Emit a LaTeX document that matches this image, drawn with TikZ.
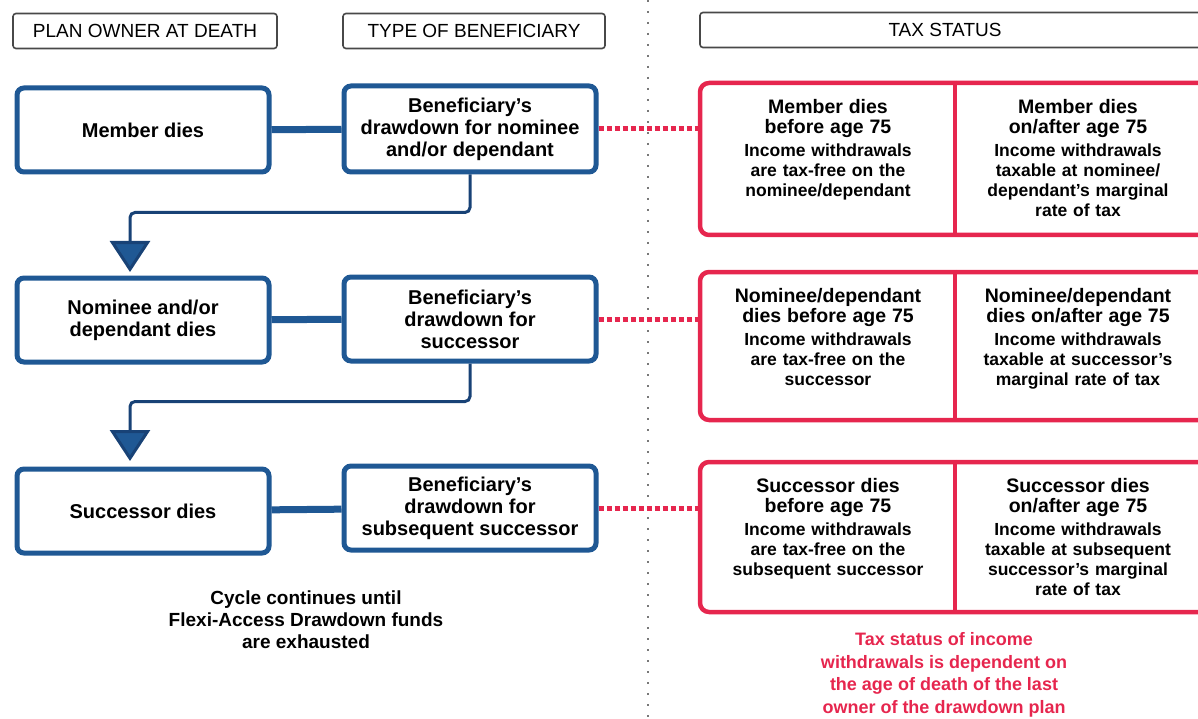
\documentclass[tikz,border=0pt]{standalone}
\usepackage{fontspec}
\setmainfont{Liberation Sans}
\usetikzlibrary{arrows.meta}
\definecolor{boxblue}{RGB}{31,88,148}
\definecolor{lineblue}{RGB}{24,66,118}
\definecolor{boxred}{RGB}{230,38,78}
\definecolor{headgray}{RGB}{72,72,72}
\definecolor{sepgray}{RGB}{120,120,120}
\newcommand{\cellhd}[1]{{\fontsize{19.5}{20}\selectfont #1\par}\vspace{3pt}}
\tikzset{
  headbox/.style={draw=headgray, line width=1.6pt, rounded corners=3pt, minimum height=35pt, inner sep=0pt, font=\fontsize{19}{22}\selectfont},
  bluebox/.style={draw=boxblue, fill=white, line width=5pt, rounded corners=7pt, minimum width=252pt, minimum height=84pt, align=center, inner sep=0pt, font=\bfseries\fontsize{20}{22}\selectfont},
  redbox/.style={draw=boxred, line width=4.5pt, rounded corners=9pt, minimum width=510pt, inner sep=0pt},
  celltext/.style={anchor=north, align=center, inner sep=0pt, text width=240pt, font=\bfseries\fontsize{17.5}{20}\selectfont},
  notetext/.style={align=center, inner sep=0pt, font=\bfseries\fontsize{19}{22}\selectfont},
  joinline/.style={boxblue, line width=7pt},
  flowline/.style={lineblue, line width=3pt, rounded corners=5pt, -{Triangle[width=40pt,length=31pt,fill=boxblue]}},
  dotline/.style={boxred, line width=5pt, dash pattern=on 5pt off 3pt},
  divline/.style={boxred, line width=4pt}
}
\begin{document}
\begin{tikzpicture}[x=1pt,y=-1pt]
        \useasboundingbox (0,0) rectangle (1198,719);

        % Separating dotted line
        \draw [sepgray, line width=2pt, dash pattern=on 1.6pt off 9.4pt] (648,0) -- (648,719);%

        % Column headers
        \node [headbox, minimum width=264pt] (hplan) at (145,31) {PLAN OWNER AT DEATH};%
        \node [headbox, minimum width=262pt] (htype) at (474,31) {TYPE OF BENEFICIARY};%
        \node [headbox, minimum width=510pt] (htax) at (955,30) {\hspace*{-20pt}TAX STATUS};%

        % Owner boxes
        \node [bluebox] (m1) at (143,130) {Member dies};%
        \node [bluebox] (m2) at (143,320) {Nominee and/or\\dependant dies};%
        \node [bluebox] (m3) at (143,511) {Successor dies};%

        % Beneficiary boxes
        \node [bluebox, minimum height=86pt] (b1) at (470,129) {Beneficiary's\\drawdown for nominee\\and/or dependant};%
        \node [bluebox] (b2) at (470,319) {Beneficiary's\\drawdown for\\successor};%
        \node [bluebox] (b3) at (470,508) {Beneficiary's\\drawdown for\\subsequent successor};%

        % Joining owner and beneficiary
        \draw [joinline] (m1) -- (b1);%
        \draw [joinline] (m2) -- (b2);%
        \draw [joinline] (m3) -- (b3);%

        % Flow down to the next owner
        \coordinate (a1) at (130,272);%
        \coordinate (a2) at (130,461);%
        \draw [flowline] (b1.south) -- ++(0,38) -| (a1);%
        \draw [flowline] (b2.south) -- ++(0,38) -| (a2);%

        % Tax status boxes
        \node [redbox, minimum height=152pt] (r1) at (955,159) {};%
        \node [redbox, minimum height=148pt] (r2) at (955,346) {};%
        \node [redbox, minimum height=150pt] (r3) at (955,537) {};%
        \draw [divline] (r1.north) -- (r1.south);%
        \draw [divline] (r2.north) -- (r2.south);%
        \draw [divline] (r3.north) -- (r3.south);%

        % Dotted links to the tax status
        \draw [dotline] (b1.east) -- (b1.east -| r1.west);%
        \draw [dotline] (b2.east) -- (b2.east -| r2.west);%
        \draw [dotline] (b3.east) -- (b3.east -| r3.west);%

        % Cell texts
        \node [celltext] (c1a) at ([xshift=-127pt,yshift=-18pt]r1.north) {\cellhd{Member dies\\before age 75}Income withdrawals\\are tax-free on the\\nominee/dependant};%
        \node [celltext] (c1b) at ([xshift=123pt,yshift=-18pt]r1.north) {\cellhd{Member dies\\on/after age 75}Income withdrawals\\taxable at nominee/\\dependant's marginal\\rate of tax};%
        \node [celltext] (c2a) at ([xshift=-127pt,yshift=-18pt]r2.north) {\cellhd{Nominee/dependant\\dies before age 75}Income withdrawals\\are tax-free on the\\successor};%
        \node [celltext] (c2b) at ([xshift=123pt,yshift=-18pt]r2.north) {\cellhd{Nominee/dependant\\dies on/after age 75}Income withdrawals\\taxable at successor's\\marginal rate of tax};%
        \node [celltext] (c3a) at ([xshift=-127pt,yshift=-18pt]r3.north) {\cellhd{Successor dies\\before age 75}Income withdrawals\\are tax-free on the\\subsequent successor};%
        \node [celltext] (c3b) at ([xshift=123pt,yshift=-18pt]r3.north) {\cellhd{Successor dies\\on/after age 75}Income withdrawals\\taxable at subsequent\\successor's marginal\\rate of tax};%

        % Notes under the columns
        \node [notetext] (cycle) at (306,620) {Cycle continues until\\Flexi-Access Drawdown funds\\are exhausted};%
        \node [notetext, text=boxred, font=\bfseries\fontsize{18}{22.5}\selectfont] (taxnote) at (944,675) {Tax status of income\\withdrawals is dependent on\\the age of death of the last\\owner of the drawdown plan};%
\end{tikzpicture}
\end{document}
